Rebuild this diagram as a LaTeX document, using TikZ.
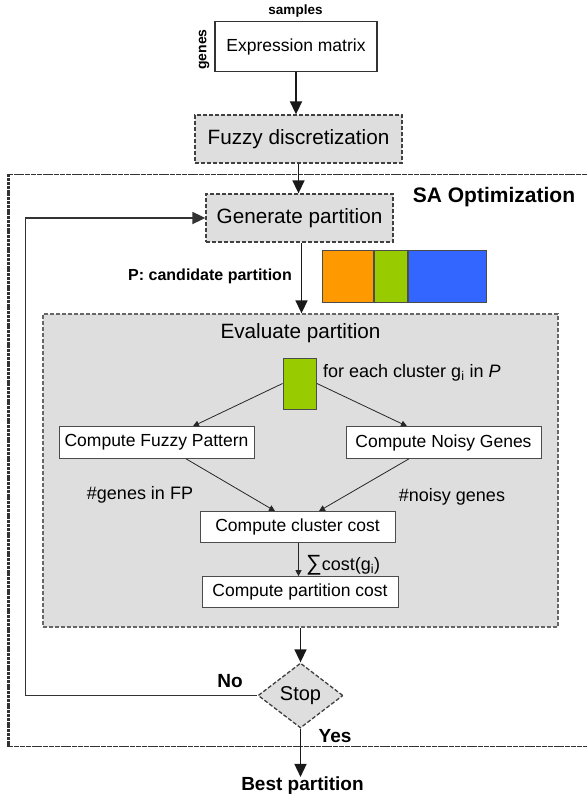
\documentclass[tikz,border=0pt]{standalone}
\usepackage{fontspec}
\setmainfont{Liberation Sans}
\usetikzlibrary{arrows.meta,shapes.geometric}
\definecolor{orangeC}{HTML}{FF9900}
\definecolor{greenC}{HTML}{99CC00}
\definecolor{blueC}{HTML}{3366FF}
\definecolor{boxgray}{HTML}{DEDEDE}
\tikzset{
  fs/.style={font=\fontsize{#1}{#1}\selectfont},
  blabel/.style={font=\bfseries\fontsize{#1}{#1}\selectfont, inner sep=0pt},
  lbl/.style={fs=18, inner sep=0pt},
  dbox/.style={draw=black!75, fill=boxgray, dash pattern=on 4pt off 2pt, line width=1.3pt, inner sep=0pt, fs=20.7},
  wbox/.style={draw=black!70, fill=white, line width=0.9pt, inner sep=0pt, fs=17.5},
  bigarrow/.style={draw=black!90, line width=1.5pt, -{Triangle[length=13pt,width=12pt]}},
  smallarrow/.style={draw=black!85, line width=0.8pt, -{Triangle[length=6pt,width=6pt]}},
  part/.style={draw=black!70, line width=1pt, minimum height=51.6pt, inner sep=0pt, anchor=west},
  framestyle/.style={draw=black!80, dash pattern=on 5pt off 0.8pt}
}
\begin{document}
\begin{tikzpicture}[x=1pt,y=-1pt]
\useasboundingbox[fill=white] (0,0) rectangle (587,797);

% frame of the optimisation loop (open on the right)
\coordinate (frtl) at (8.3,174.3);
\coordinate (frbl) at (8.3,746.7);
\coordinate (frtr) at (587,174.3);
\coordinate (frbr) at (587,746.7);
\draw[framestyle, line width=1.5pt] (frtr) -- (frtl);
\draw[framestyle, line width=1.5pt] (frbl) -- (frbr);
\draw[framestyle, line width=2.6pt, dash pattern=on 3pt off 0.8pt] (frtl) -- (frbl);
\node[blabel=21] (satitle) at (494,197) {SA Optimization};

% input matrix
\node[draw=black!80, line width=1.3pt, fill=white, minimum width=162pt, minimum height=50pt,
      inner sep=0pt, fs=17.5] (expr) at (296,46.7) {Expression matrix};
\node[blabel=13.5] (samples) at (295.5,11.5) {samples};
\node[blabel=14, rotate=90] (genes) at (204,49.5) {genes};

% preprocessing and partition generation
\node[dbox, minimum width=207pt, minimum height=48pt] (fuzzy) at (298.5,139) {Fuzzy discretization};
\node[dbox, minimum width=187pt, minimum height=48pt] (gen) at (299.5,218) {Generate partition};

% candidate partition
\node[blabel=16, anchor=east] (plabel) at (292,276) {P: candidate partition};
\node[part, fill=orangeC, minimum width=51pt] (po) at (322,276.5) {};
\node[part, fill=greenC, minimum width=33pt] (pg) at (po.east) {};
\node[part, fill=blueC, minimum width=77.5pt] (pb) at (pg.east) {};

% evaluation block
\node[draw=black!60, fill=boxgray, dash pattern=on 4pt off 2pt, line width=1.3pt,
      minimum width=515pt, minimum height=313pt, inner sep=0pt] (eval) at (300.35,470.5) {};
\node[fs=20.7, inner sep=0pt] (evaltitle) at (300.5,333.5) {Evaluate partition};
\node[draw=black!70, fill=greenC, line width=0.9pt, minimum width=33.5pt, minimum height=51pt,
      inner sep=0pt] (gi) at (299.75,383.5) {};
\node[lbl, anchor=west] (each) at (323,373) {for each cluster g\textsubscript{i} in \textit{P}};

\node[wbox, minimum width=195pt, minimum height=31.7pt] (cfp) at (156.5,442.5) {Compute Fuzzy Pattern};
\node[wbox, minimum width=195pt, minimum height=31.7pt] (cng) at (443.5,442.5) {Compute Noisy Genes};
\node[wbox, minimum width=195pt, minimum height=31pt] (cluster) at (297.5,527) {Compute cluster cost};
\node[wbox, minimum width=196pt, minimum height=30.7pt] (partcost) at (300,592) {Compute partition cost};

\node[lbl] (ngfp) at (140,495) {\#genes in FP};
\node[lbl] (nnoisy) at (452,496.7) {\#noisy genes};
\node[lbl, anchor=west] (sum) at (306,565) {{\fontsize{22}{22}\selectfont ∑}cost(g\textsubscript{i})};

\draw[smallarrow] (gi.west) -- ([xshift=36.5pt]cfp.north);
\draw[smallarrow] (gi.east) -- ([xshift=-36.5pt]cng.north);
\draw[smallarrow] ([xshift=29.5pt]cfp.south) -- ([xshift=-22.5pt]cluster.north);
\draw[smallarrow] ([xshift=-34.5pt]cng.south) -- ([xshift=21.5pt]cluster.north);
\draw[smallarrow] ([xshift=1pt]cluster.south) -- ([xshift=1pt]cluster.south |- partcost.north);

% stop test and result
\node[diamond, draw=black!75, fill=boxgray, dash pattern=on 4pt off 2pt, line width=1.3pt,
      minimum width=85pt, minimum height=65pt, inner sep=0pt, fs=20] (stop) at (300.5,695.5) {Stop};
\node[blabel=19] (best) at (302.5,786) {Best partition};
\node[blabel=19] (no) at (230,681) {No};
\node[blabel=19] (yes) at (335,736) {Yes};

% main flow
\draw[bigarrow] (expr.south) -- (expr.south |- fuzzy.north);
\draw[bigarrow] (fuzzy.south) -- (fuzzy.south |- gen.north);
\draw[bigarrow] ([xshift=2pt]gen.south) -- ([xshift=2pt]gen.south |- eval.north);
\draw[bigarrow] (stop.north |- eval.south) -- (stop.north);
\draw[bigarrow] (stop.south) -- (stop.south |- best.north);

% loop back when not stopping
\coordinate (loopx) at (25.5,0);
\draw[draw=black!80, line width=1.8pt, -{Triangle[length=13pt,width=12pt]}]
  (stop.west) -- (stop.west -| loopx) |- (gen.west);
\end{tikzpicture}
\end{document}
